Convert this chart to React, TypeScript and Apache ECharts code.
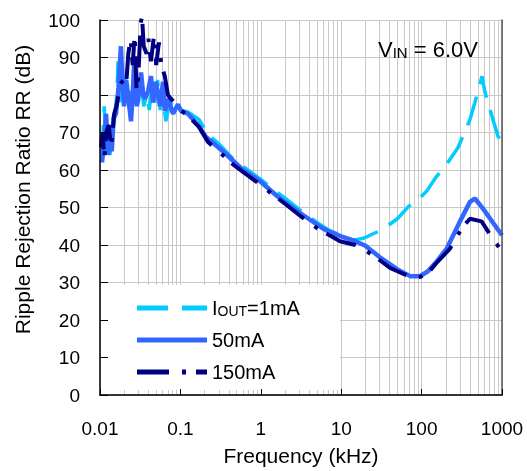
import React, { useEffect, useRef } from 'react';
import * as echarts from 'echarts';

// ---- Data (frequency in kHz, ripple rejection in dB) ----
const freq1mA = [
  0.0106, 0.0113, 0.0119, 0.0126, 0.0133, 0.0142, 0.0152, 0.0162, 0.0168, 0.0176,
  0.0185, 0.0196, 0.0206, 0.022, 0.0235, 0.025, 0.0265, 0.028, 0.03, 0.0325,
  0.035, 0.038, 0.041, 0.044, 0.048, 0.052, 0.056, 0.06, 0.066, 0.072,
  0.08, 0.09, 0.1, 0.124, 0.17, 0.22, 0.3, 0.45, 0.6, 1,
  1.5, 2, 3, 5, 7, 10, 14, 19, 25, 32,
  50, 69, 100, 117, 150, 206, 284, 400, 460, 564,
  615, 770, 892, 1000,
];
const rr1mA = [
  64, 77, 66, 72, 64, 70, 74, 80, 89, 78,
  85, 80, 85, 78, 82, 76, 88, 80, 78, 84,
  77, 80, 76, 82, 78, 84, 76, 80, 73, 77,
  78, 76, 76, 75.5, 73.5, 69.5, 67, 63, 61, 57.5,
  54.5, 52.5, 49.5, 46, 44, 42.5, 41.3, 41.8, 43, 44,
  47, 50.3, 53, 54.5, 58, 61.6, 66, 73.5, 78, 85,
  80.7, 73.5, 69, 67.5,
];

const freq50mA = [
  0.0106, 0.0115, 0.0119, 0.0126, 0.0133, 0.014, 0.0148, 0.0158, 0.017, 0.0182,
  0.0192, 0.0199, 0.0212, 0.0223, 0.0243, 0.0255, 0.0265, 0.0288, 0.031, 0.0324,
  0.0345, 0.0363, 0.0396, 0.0431, 0.0456, 0.0497, 0.0558, 0.0608, 0.0643, 0.0701,
  0.081, 0.0934, 0.102, 0.124, 0.166, 0.208, 0.338, 0.6, 0.98, 1.73,
  3.35, 5.9, 7.2, 10, 15, 20, 30, 50, 72, 96,
  120, 150, 205, 300, 400, 460, 580, 770, 1000,
];
const rr50mA = [
  62, 70, 75, 64, 72, 65, 74, 75, 82, 93,
  82, 77, 84, 80, 73, 80, 88, 77, 82, 86,
  80, 79, 81, 85, 78, 83.5, 77, 83.5, 75.7, 79,
  75, 77.5, 75.7, 75, 72, 68.8, 65, 60, 57, 52.4,
  48, 44.4, 43.5, 42.3, 41, 39.8, 36.8, 33.5, 31.7, 31.7,
  33, 35.3, 39, 46.3, 51.5, 52.4, 49.7, 46, 42.6,
];

const freq150mA = [
  0.0103, 0.0108, 0.0113, 0.012, 0.0128, 0.0138, 0.015, 0.016, 0.017, 0.018,
  0.0195, 0.0212, 0.0225, 0.024, 0.0255, 0.027, 0.0285, 0.03, 0.032, 0.0333,
  0.035, 0.038, 0.04, 0.043, 0.047, 0.05, 0.054, 0.058, 0.064, 0.07,
  0.076, 0.085, 0.1, 0.124, 0.17, 0.22, 0.3, 0.45, 0.6, 1,
  1.5, 2, 3, 5, 7, 9.66, 15, 20, 30, 40.5,
  50, 78, 96, 120, 150, 225, 327, 400, 557, 700,
  945, 1000,
];
const rr150mA = [
  66, 70, 63, 70, 72, 66, 75, 77, 80, 83,
  84, 83, 91, 95, 88, 96, 81, 85, 99, 101,
  93, 91, 95, 89, 96, 88, 94, 88, 85, 80,
  79, 78, 76, 74.5, 71.5, 67.5, 65, 61.5, 59.5, 56,
  53, 51, 48, 44.5, 42.7, 41, 40, 38.6, 36, 33.9,
  33, 31.2, 31.5, 32.5, 35, 39, 45, 47, 46.3, 43,
  39, 38.5,
];

const seriesNames = ['IOUT=1mA', '50mA', '150mA'];
const seriesColors = ['#00CCFF', '#3366FF', '#000080'];
// legend icons: dash patterns drawn as filled shapes (70 x 5 box)
const legendIcons = [
  'path://M0,0h31v5h-31z M45,0h25v5h-25z',
  'path://M0,0h70v5h-70z',
  'path://M0,0h32v5h-32z M45,0h4v5h-4z M59,0h11v5h-11z',
];
const xMin = 0.01;
const xMax = 1000;
const yMin = 0;
const yMax = 100;
const yInterval = 10;
const decadeStarts = [0.01, 0.1, 1, 10, 100];
const minorMultipliers = [2, 3, 4, 5, 6, 7, 8, 9];

const zip = (xs: number[], ys: number[]) => xs.map((x, i) => [x, ys[i]]);

const FONT = '"Liberation Sans", Arial, sans-serif';

export default function App() {
  const ref = useRef<HTMLDivElement>(null);

  useEffect(() => {
    if (!ref.current) return;
    const chart = echarts.init(ref.current, undefined, { renderer: 'svg' });

    const minorLines: { xAxis: number }[] = [];
    decadeStarts.forEach((d) => minorMultipliers.forEach((m) => minorLines.push({ xAxis: Number((d * m).toPrecision(6)) })));

    const fmt = (v: number) => String(Number(v.toPrecision(6)));

    const option: any = {
      animation: false,
      textStyle: { fontFamily: FONT },
      grid: { left: 100, right: 25, top: 20, bottom: 73, containLabel: false },
      xAxis: [
        {
          type: 'log', logBase: 10, min: xMin, max: xMax, position: 'bottom', z: 0,
          axisLine: { show: false }, axisTick: { show: false }, axisLabel: { show: false },
          splitLine: { show: true, lineStyle: { color: '#c8c8c8', width: 1 } },
        },
        {
          type: 'log', logBase: 10, min: xMin, max: xMax, position: 'bottom', z: 10,
          axisLine: { show: true, lineStyle: { color: '#000', width: 1.5 } },
          axisTick: { show: true, inside: true, length: 6, lineStyle: { color: '#000', width: 1 } },
          axisLabel: { show: true, fontSize: 19, color: '#000', margin: 24, fontFamily: FONT, formatter: fmt },
          splitLine: { show: false },
          name: 'Frequency (kHz)', nameLocation: 'middle', nameGap: 50,
          nameTextStyle: { fontSize: 21, color: '#000', fontFamily: FONT },
        },
        {
          type: 'log', logBase: 10, min: xMin, max: xMax, position: 'top', z: 10,
          axisLine: { show: true, lineStyle: { color: '#333', width: 1.5 } },
          axisTick: { show: false }, axisLabel: { show: false }, splitLine: { show: false },
        },
      ],
      yAxis: [
        {
          type: 'value', min: yMin, max: yMax, interval: yInterval, position: 'left', z: 0,
          axisLine: { show: false }, axisTick: { show: false }, axisLabel: { show: false },
          splitLine: { show: true, lineStyle: { color: '#c8c8c8', width: 1 } },
        },
        {
          type: 'value', min: yMin, max: yMax, interval: yInterval, position: 'left', z: 10,
          axisLine: { show: true, lineStyle: { color: '#000', width: 1.5 } },
          axisTick: { show: true, inside: true, length: 8, lineStyle: { color: '#000', width: 1 } },
          axisLabel: { show: true, fontSize: 19, color: '#000', margin: 20, fontFamily: FONT },
          splitLine: { show: false },
          name: 'Ripple Rejection Ratio RR (dB)', nameLocation: 'middle', nameGap: 67,
          nameTextStyle: { fontSize: 21, color: '#000', fontFamily: FONT, padding: [0, 0, 0, 36] },
        },
        {
          type: 'value', min: yMin, max: yMax, interval: yInterval, position: 'right', z: 10,
          axisLine: { show: true, lineStyle: { color: '#555', width: 1.5 } },
          axisTick: { show: false }, axisLabel: { show: false }, splitLine: { show: false },
        },
      ],
      legend: {
        data: seriesNames.map((n, i) => ({ name: n, icon: legendIcons[i] })),
        orient: 'vertical',
        left: 102,
        top: 285,
        padding: [13, 40, 8, 35],
        itemGap: 12,
        itemWidth: 70,
        itemHeight: 5,
        symbolKeepAspect: false,
        backgroundColor: '#fff',
        z: 4,
        selectedMode: false,
        textStyle: {
          fontSize: 20, color: '#000', fontFamily: FONT,
          rich: {
            n: { fontSize: 20, color: '#000', fontFamily: FONT },
            s: { fontSize: 14, color: '#000', fontFamily: FONT, verticalAlign: 'bottom' },
          },
        },
        formatter: (name: string) =>
          name === 'IOUT=1mA' ? '{n|I}{s|OUT}{n|=1mA}' : `{n|${name}}`,
      },
      graphic: [
        {
          type: 'text',
          left: 378,
          top: 38,
          z: 20,
          style: {
            text: '{v|V}{s|IN}{v| = 6.0V}',
            fill: '#000',
            rich: {
              v: { fontSize: 22, fontFamily: FONT, fill: '#000' },
              s: { fontSize: 15, fontFamily: FONT, fill: '#000', verticalAlign: 'bottom' },
            },
          },
        },
      ],
      series: [
        {
          name: '__grid', type: 'line', data: [], xAxisIndex: 0, yAxisIndex: 0, silent: true,
          markLine: {
            silent: true, z: 1, symbol: ['none', 'none'], label: { show: false }, animation: false,
            lineStyle: { color: '#c8c8c8', type: 'solid', width: 1 },
            data: minorLines,
          },
        },
        {
          name: seriesNames[0], type: 'line', data: zip(freq1mA, rr1mA), xAxisIndex: 0, yAxisIndex: 0,
          symbol: 'none', color: seriesColors[0],
          lineStyle: { color: seriesColors[0], width: 3.5, type: [30, 13], cap: 'butt' },
        },
        {
          name: seriesNames[1], type: 'line', data: zip(freq50mA, rr50mA), xAxisIndex: 0, yAxisIndex: 0,
          symbol: 'none', color: seriesColors[1],
          lineStyle: { color: seriesColors[1], width: 4.5, type: 'solid' },
        },
        {
          name: seriesNames[2], type: 'line', data: zip(freq150mA, rr150mA), xAxisIndex: 0, yAxisIndex: 0,
          symbol: 'none', color: seriesColors[2],
          lineStyle: { color: seriesColors[2], width: 4, type: [32, 13, 4, 10], cap: 'butt' },
        },
      ],
    };

    chart.setOption(option);
    return () => chart.dispose();
  }, []);

  return (
    <div
      ref={ref}
      style={{ position: 'fixed', left: 0, top: 0, width: 527, height: 471 }}
    />
  );
}
